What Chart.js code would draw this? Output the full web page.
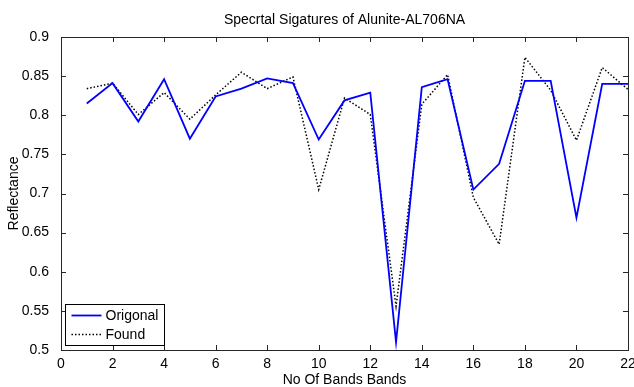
<!DOCTYPE html>
<html>
<head>
<meta charset="utf-8">
<script src="https://cdn.jsdelivr.net/npm/chart.js@4.4.1/dist/chart.umd.min.js"></script>
<style>
    html, body { margin: 0; padding: 0; background: #ffffff; }
    #wrap { width: 634px; height: 387px; }
</style>
</head>
<body>
<div id="wrap"><canvas id="spectralChart"></canvas></div>
<script>
    'use strict';

    // band numbers
    var bands = [1, 2, 3, 4, 5, 6, 7, 8, 9, 10, 11, 12, 13, 14, 15, 16, 17, 18, 19, 20, 21, 22];

    // reflectance
    var origonal = [0.815, 0.841, 0.792, 0.846, 0.770, 0.824, 0.834, 0.847, 0.841, 0.769, 0.819,
                    0.829, 0.510, 0.836, 0.846, 0.705, 0.738, 0.844, 0.844, 0.669, 0.840, 0.840];
    var found    = [0.834, 0.841, 0.801, 0.829, 0.795, 0.826, 0.855, 0.834, 0.849, 0.705, 0.822,
                    0.801, 0.556, 0.814, 0.852, 0.695, 0.635, 0.874, 0.832, 0.768, 0.861, 0.833];

    var xTicks = [0, 2, 4, 6, 8, 10, 12, 14, 16, 18, 20, 22];
    var yTicks = [0.5, 0.55, 0.6, 0.65, 0.7, 0.75, 0.8, 0.85, 0.9];

    var colors = {
        blue   : "#0000ff",
        black  : "#000000",
        frame  : "#262626",
        text   : "#000000"
    }

    var fontFamily = "'Liberation Sans', Arial, sans-serif"

    function toPoints(ys) {
        return bands.map(function(b, i) { return { x: b, y: ys[i] }; });
    }

    // MATLAB-like box with inward ticks on all four sides, plus the legend
    var boxTicks = {
        id: 'boxTicks',
        afterDatasetsDraw: function(chart) {
            var ctx = chart.ctx, a = chart.chartArea;
            var xs = chart.scales.x, ys = chart.scales.y;
            var len = 5;
            ctx.save();
            ctx.strokeStyle = colors.frame;
            ctx.lineWidth = 1;
            ctx.beginPath();
            xTicks.forEach(function(v) {
                var px = Math.round(xs.getPixelForValue(v)) + 0.5;
                ctx.moveTo(px, a.bottom); ctx.lineTo(px, a.bottom - len);
                ctx.moveTo(px, a.top); ctx.lineTo(px, a.top + len);
            });
            yTicks.forEach(function(v) {
                var py = Math.round(ys.getPixelForValue(v)) + 0.5;
                ctx.moveTo(a.left, py); ctx.lineTo(a.left + len, py);
                ctx.moveTo(a.right, py); ctx.lineTo(a.right - len, py);
            });
            ctx.stroke();
            ctx.strokeRect(Math.round(a.left) + 0.5, Math.round(a.top) + 0.5,
                           Math.round(a.right - a.left), Math.round(a.bottom - a.top));

            // legend box, lower left
            var lx = Math.round(a.left) + 4.5, ly = Math.round(a.bottom) - 45.5;
            var lw = 99, lh = 41;
            ctx.fillStyle = '#ffffff';
            ctx.fillRect(lx, ly, lw, lh);
            ctx.strokeStyle = colors.black;
            ctx.strokeRect(lx, ly, lw, lh);
            ctx.font = '14px ' + fontFamily;
            ctx.textBaseline = 'middle';
            chart.data.datasets.forEach(function(ds, i) {
                var yy = ly + 11 + i * 19;
                ctx.strokeStyle = ds.borderColor;
                ctx.lineWidth = ds.borderWidth;
                ctx.setLineDash(ds.borderDash || []);
                ctx.beginPath();
                ctx.moveTo(lx + 6, yy); ctx.lineTo(lx + 36, yy);
                ctx.stroke();
                ctx.setLineDash([]);
                ctx.fillStyle = colors.text;
                ctx.fillText(ds.label, lx + 40, yy + 1);
            });
            ctx.restore();
        }
    };

    new Chart(document.getElementById('spectralChart'), {
        type: 'line',
        data: {
            datasets: [{
                label: 'Origonal',
                data: toPoints(origonal),
                borderColor: colors.blue,
                backgroundColor: colors.blue,
                borderWidth: 1.8,
                pointRadius: 0,
                tension: 0
            }, {
                label: 'Found',
                data: toPoints(found),
                borderColor: colors.black,
                backgroundColor: colors.black,
                borderWidth: 1.5,
                borderDash: [1.5, 2],
                pointRadius: 0,
                tension: 0
            }]
        },
        plugins: [boxTicks],
        options: {
            responsive: true,
            maintainAspectRatio: false,
            animation: false,
            layout: { padding: { left: 0, right: 6, top: 0, bottom: 0 } },
            plugins: {
                legend: { display: false },
                tooltip: { enabled: false },
                title: {
                    display: true,
                    fullSize: false,
                    text: 'Specrtal Sigatures of Alunite-AL706NA',
                    color: colors.text,
                    font: { size: 14, family: fontFamily, weight: 'normal' },
                    padding: { top: 12, bottom: 8.2 }
                }
            },
            scales: {
                x: {
                    type: 'linear',
                    min: 0,
                    max: 22,
                    grid: { display: false },
                    border: { display: false },
                    afterBuildTicks: function(scale) {
                        scale.ticks = xTicks.map(function(v) { return { value: v }; });
                    },
                    afterFit: function(scale) {
                        scale.height = 37;
                        scale.paddingLeft = 0;
                        scale.paddingRight = 0;
                    },
                    ticks: {
                        color: colors.text,
                        padding: -2,
                        maxRotation: 0,
                        font: { size: 14, family: fontFamily }
                    },
                    title: {
                        display: true,
                        text: 'No Of Bands Bands',
                        color: colors.text,
                        padding: { top: 0, bottom: -2 },
                        font: { size: 14, family: fontFamily }
                    }
                },
                y: {
                    min: 0.5,
                    max: 0.9,
                    grid: { display: false },
                    border: { display: false },
                    afterBuildTicks: function(scale) {
                        scale.ticks = yTicks.map(function(v) { return { value: v }; });
                    },
                    afterFit: function(scale) {
                        scale.width = 61;
                        scale.paddingTop = 0;
                        scale.paddingBottom = 0;
                    },
                    ticks: {
                        color: colors.text,
                        padding: 4,
                        font: { size: 14, family: fontFamily },
                        callback: function(v) { return String(Math.round(v * 100) / 100); }
                    },
                    title: {
                        display: true,
                        text: 'Reflectance',
                        color: colors.text,
                        padding: { top: 6, bottom: 0 },
                        font: { size: 14, family: fontFamily }
                    }
                }
            }
        }
    });
</script>
</body>
</html>
